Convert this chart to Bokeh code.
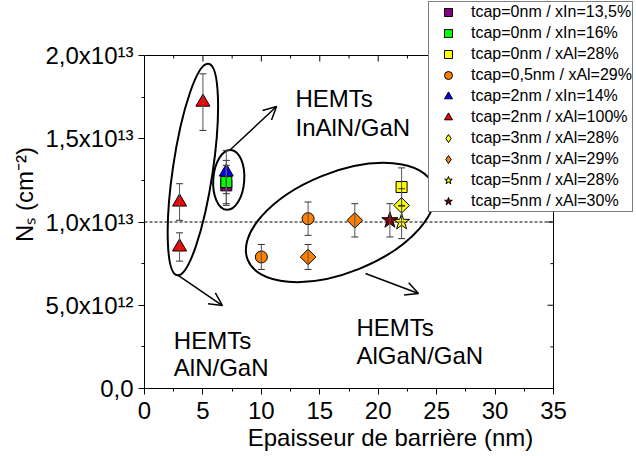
import math
from bokeh.plotting import figure
from bokeh.models import (Range1d, FixedTicker, Whisker, TeeHead,
                          ColumnDataSource, Label, Arrow, OpenHead, CustomJSTickFormatter)
from bokeh.embed import file_html
from bokeh.resources import INLINE

FONT = "Liberation Sans"

# ---------------- data ----------------
x_title = "Epaisseur de barrière (nm)"
y_title = "Nₛ (cm⁻²)"
x_ticks = [0, 5, 10, 15, 20, 25, 30, 35]
y_ticks = [0, 5e12, 1e13, 1.5e13, 2e13]
y_tick_labels = ["0,0", "5,0x10¹²", "1,0x10¹³", "1,5x10¹³", "2,0x10¹³"]

names = ["tcap=0nm / xIn=13,5%", "tcap=0nm / xIn=16%", "tcap=0nm / xAl=28%",
         "tcap=0,5nm / xAl=29%", "tcap=2nm / xIn=14%", "tcap=2nm / xAl=100%",
         "tcap=3nm / xAl=28%", "tcap=3nm / xAl=29%", "tcap=5nm / xAl=28%",
         "tcap=5nm / xAl=30%"]

s0_x = [7];          s0_y = [1.22e13];                s0_e = [1.2e12]
s1_x = [7];          s1_y = [1.24e13];                s1_e = [1.3e12]
s2_x = [22];         s2_y = [1.21e13];                s2_e = [1.15e12]
s3_x = [10, 14];     s3_y = [7.9e12, 1.02e13];        s3_e = [0.75e12, 1.0e12]
s4_x = [7];          s4_y = [1.30e13];                s4_e = [1.3e12]
s5_x = [3, 3, 5];    s5_y = [8.5e12, 1.12e13, 1.72e13]; s5_e = [0.85e12, 1.1e12, 1.7e12]
s6_x = [22];         s6_y = [1.10e13];                s6_e = [1.0e12]
s7_x = [14, 18];     s7_y = [7.9e12, 1.01e13];        s7_e = [0.75e12, 1.0e12]
s8_x = [22];         s8_y = [1.0e13];                 s8_e = [1.0e12]
s9_x = [21];         s9_y = [1.01e13];                s9_e = [1.0e12]

xs = [s0_x, s1_x, s2_x, s3_x, s4_x, s5_x, s6_x, s7_x, s8_x, s9_x]
ys = [s0_y, s1_y, s2_y, s3_y, s4_y, s5_y, s6_y, s7_y, s8_y, s9_y]
es = [s0_e, s1_e, s2_e, s3_e, s4_e, s5_e, s6_e, s7_e, s8_e, s9_e]

# ---------------- styles ----------------
markers = ["square", "square", "square", "circle", "triangle", "triangle",
           "diamond", "diamond", "star", "star"]
sizes = [11, 11, 11, 12, 14, 14, 11, 11, 17, 17]
colors = ["#800080", "#00FF00", "#FFFF00", "#FF8000", "#0000FF", "#FF0000",
          "#FFFF00", "#FF8000", "#FFFF00", "#800000"]

W, H = 636, 456
LEFT, BOTTOM = 144, 68            # frame starts at x=144 px, axis at y=388 px
X_END_PX, Y_TOP_PX = 553, 55      # pixel position of x=35 and y=2e13
XMAX, YMAX = x_ticks[-1], y_ticks[-1]
x_hi = XMAX * (W - LEFT) / (X_END_PX - LEFT)
y_hi = YMAX * (H - BOTTOM) / (H - BOTTOM - Y_TOP_PX)

p = figure(width=W, height=H, output_backend="svg", toolbar_location=None,
           x_range=Range1d(0, x_hi), y_range=Range1d(0, y_hi),
           min_border_left=LEFT, min_border_right=0, min_border_top=0,
           min_border_bottom=BOTTOM)
p.grid.visible = False
p.outline_line_color = None

x_minor = [x + 2.5 for x in x_ticks[:-1]]
y_minor = [y + 2.5e12 for y in y_ticks[:-1]]

xa = p.xaxis[0]
xa.ticker = FixedTicker(ticks=x_ticks, minor_ticks=x_minor)
xa.bounds = (0, XMAX)
xa.axis_label = x_title
ya = p.yaxis[0]
ya.ticker = FixedTicker(ticks=y_ticks, minor_ticks=y_minor)
ya.bounds = (0, YMAX)
ya.formatter = CustomJSTickFormatter(
    args=dict(yt=y_ticks, yl=y_tick_labels),
    code="for (let i = 0; i < yt.length; i++) { if (Math.abs(yt[i] - tick) < 1) return yl[i]; } return '';")
ya.axis_label = y_title
for ax in (xa, ya):
    ax.major_label_text_font = FONT
    ax.major_label_text_font_size = "24px"
    ax.major_label_text_color = "black"
    ax.axis_label_text_font = FONT
    ax.axis_label_text_font_size = "24px"
    ax.axis_label_text_font_style = "normal"
    ax.axis_label_text_color = "black"
    ax.major_tick_out = 6
    ax.major_tick_in = 0
    ax.minor_tick_out = 3
    ax.minor_tick_in = 0
    ax.axis_line_color = "black"
    ax.major_tick_line_color = "black"
    ax.minor_tick_line_color = "black"
xa.major_label_standoff = 7
xa.axis_label_standoff = 2
ya.major_label_standoff = 5
ya.axis_label_standoff = 4

# top / right frame lines with inward ticks
p.segment(x0=[0, XMAX], y0=[YMAX, 0], x1=[XMAX, XMAX], y1=[YMAX, YMAX],
          line_color="black", line_width=1)
p.ray(x=x_ticks, y=[YMAX] * len(x_ticks), length=6, length_units="screen",
      angle=-math.pi / 2, line_color="black", line_width=1)
p.ray(x=x_minor, y=[YMAX] * len(x_minor), length=3, length_units="screen",
      angle=-math.pi / 2, line_color="black", line_width=1)
p.ray(x=[XMAX] * len(y_ticks), y=y_ticks, length=6, length_units="screen",
      angle=math.pi, line_color="black", line_width=1)
p.ray(x=[XMAX] * len(y_minor), y=y_minor, length=3, length_units="screen",
      angle=math.pi, line_color="black", line_width=1)

# dashed reference line at 1e13
p.segment(x0=[0], y0=[1e13], x1=[XMAX], y1=[1e13], line_color="black",
          line_dash="3 2", line_width=1)

# ellipses (screen-sized)
p.ellipse(x=[4.14], y=[13.15e12], width=[40], height=[214], angle=[math.radians(-8.4)],
          width_units="screen", height_units="screen",
          fill_alpha=0, line_color="black", line_width=2)
p.ellipse(x=[7.21], y=[12.53e12], width=[31], height=[60], angle=[math.radians(-4)],
          width_units="screen", height_units="screen",
          fill_alpha=0, line_color="black", line_width=2)
p.ellipse(x=[16.77], y=[9.97e12], width=[200], height=[100], angle=[math.radians(22)],
          width_units="screen", height_units="screen",
          fill_alpha=0, line_color="black", line_width=2)

# arrows
for xs0, ys0, xe, ye in [(7.36, 14.35e12, 11.30, 16.94e12),
                         (2.88, 6.79e12, 6.67, 4.98e12),
                         (18.91, 6.91e12, 23.45, 5.71e12)]:
    p.add_layout(Arrow(x_start=xs0, y_start=ys0, x_end=xe, y_end=ye, line_width=1.5,
                       line_color="black",
                       end=OpenHead(size=13, line_width=1.5, line_color="black")))

# annotation texts
for txt, tx, ty in [("HEMTs", 12.92, 17.40e12), ("InAlN/GaN", 12.92, 15.69e12),
                    ("HEMTs", 2.51, 2.88e12), ("AlN/GaN", 2.51, 1.28e12),
                    ("HEMTs", 18.14, 3.65e12), ("AlGaN/GaN", 18.14, 1.98e12)]:
    p.add_layout(Label(x=tx, y=ty, text=txt, text_align="left", text_baseline="alphabetic",
                       text_font=FONT, text_font_size="24px", text_color="black"))

# markers (diamonds drawn as rotated squares; a zero-size twin supplies the legend glyph)
for i in range(len(names)):
    if markers[i] == "diamond":
        p.scatter(x=xs[i], y=ys[i], marker="square", size=sizes[i],
                  angle=math.pi / 4, fill_color=colors[i], line_color="black", line_width=1)
        p.scatter(x=xs[i], y=ys[i], marker="diamond", size=0,
                  fill_color=colors[i], line_color="black", line_width=1,
                  legend_label=names[i])
    else:
        p.scatter(x=xs[i], y=ys[i], marker=markers[i], size=sizes[i],
                  fill_color=colors[i], line_color="black", line_width=1,
                  legend_label=names[i])

# error bars (on top of markers)
for i in range(len(names)):
    src = ColumnDataSource(dict(x=xs[i],
                                lo=[y - e for y, e in zip(ys[i], es[i])],
                                hi=[y + e for y, e in zip(ys[i], es[i])]))
    p.add_layout(Whisker(source=src, base="x", lower="lo", upper="hi",
                         line_color="#555555", line_width=1, level="overlay",
                         lower_head=TeeHead(size=7, line_color="#333333", line_width=1),
                         upper_head=TeeHead(size=7, line_color="#333333", line_width=1)))

lg = p.legend[0]
lg.location = (284, 176)
lg.border_line_color = "black"
lg.border_line_width = 1
lg.background_fill_color = "white"
lg.background_fill_alpha = 1
lg.label_text_font = FONT
lg.label_text_font_size = "16px"
lg.label_text_color = "black"
lg.glyph_height = 20
lg.glyph_width = 38
lg.label_height = 20
lg.spacing = 1
lg.padding = 0
lg.label_standoff = 4
lg.margin = 0

open("out.html", "w").write(file_html(p, INLINE))
